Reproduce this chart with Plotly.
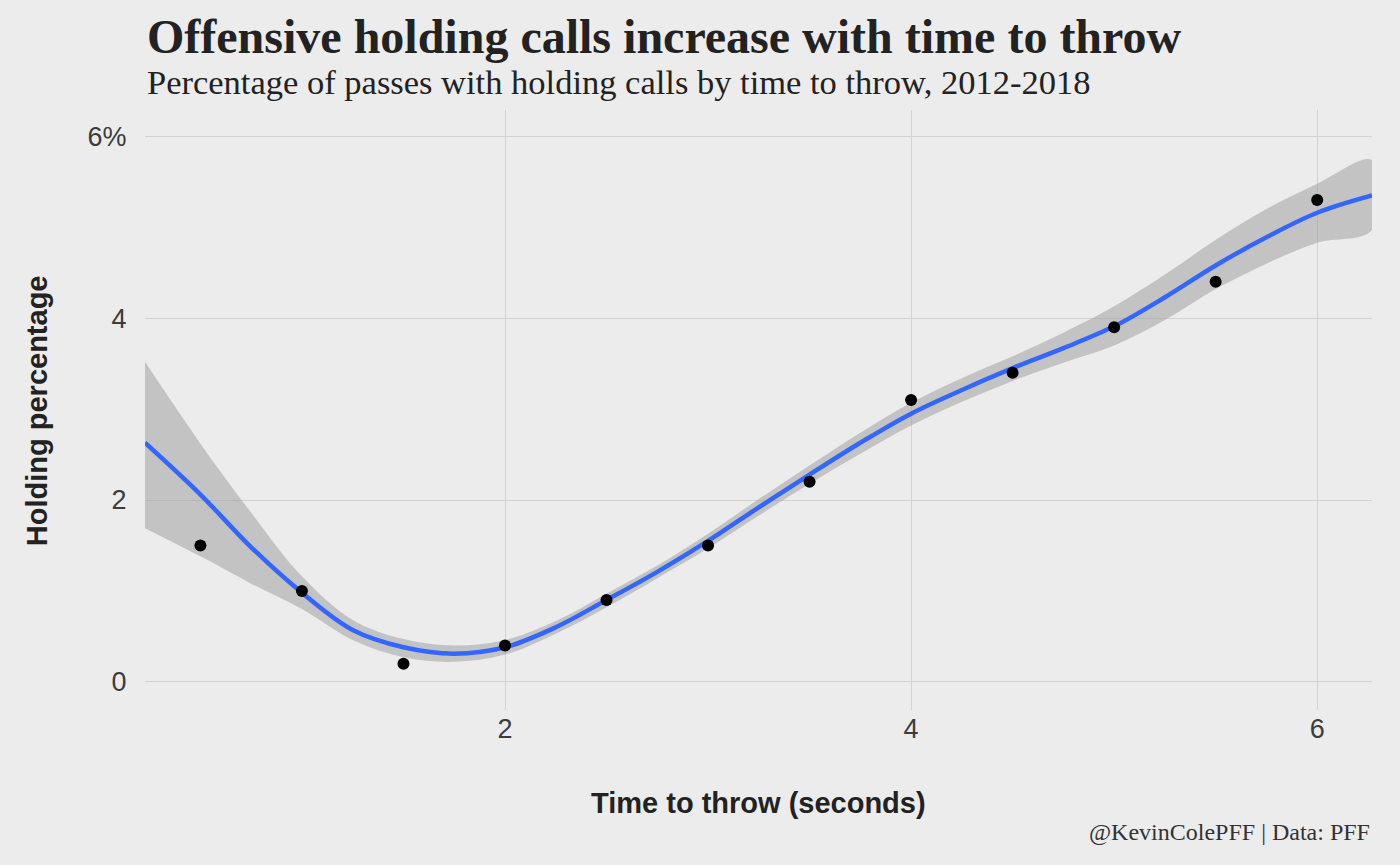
import plotly.graph_objects as go

# observed points
time_to_throw = [0.5, 1.0, 1.5, 2.0, 2.5, 3.0, 3.5, 4.0, 4.5, 5.0, 5.5, 6.0]
holding_pct = [1.5, 1.0, 0.2, 0.4, 0.9, 1.5, 2.2, 3.1, 3.4, 3.9, 4.4, 5.3]

# loess smooth
smooth_x = [0.227, 0.5, 0.75, 1.0, 1.25, 1.5, 1.75, 2.0, 2.25, 2.5, 2.75, 3.0, 3.25,
            3.5, 3.75, 4.0, 4.25, 4.5, 4.75, 5.0, 5.25, 5.5, 5.75, 6.0, 6.27]
smooth_y = [2.63, 2.06, 1.48, 0.98, 0.57, 0.38, 0.31, 0.38, 0.60, 0.90, 1.21, 1.55, 1.92,
            2.28, 2.63, 2.95, 3.21, 3.45, 3.67, 3.91, 4.23, 4.58, 4.89, 5.16, 5.35]
smooth_hi = [3.52, 2.62, 1.86, 1.16, 0.68, 0.47, 0.40, 0.46, 0.67, 0.97, 1.28, 1.63, 2.01,
             2.38, 2.74, 3.07, 3.34, 3.58, 3.84, 4.13, 4.48, 4.86, 5.20, 5.48, 5.74]
smooth_lo = [1.69, 1.38, 1.08, 0.80, 0.46, 0.27, 0.22, 0.30, 0.53, 0.82, 1.14, 1.47, 1.83,
             2.18, 2.51, 2.82, 3.08, 3.31, 3.51, 3.70, 3.98, 4.32, 4.60, 4.83, 4.97]

y_tickvals = [0, 2, 4, 6]
y_ticktext = ["0", "2", "4", "6%"]
x_tickvals = [2, 4, 6]

BG = "#ECECEC"
fig = go.Figure()
fig.add_trace(go.Scatter(x=smooth_x + smooth_x[::-1], y=smooth_hi + smooth_lo[::-1],
                         fill="toself", fillcolor="rgba(153,153,153,0.5)",
                         line=dict(width=0, shape="spline"), mode="lines",
                         hoverinfo="skip", showlegend=False))
fig.add_trace(go.Scatter(x=smooth_x, y=smooth_y, mode="lines",
                         line=dict(color="#3366FF", width=4.5, shape="spline"),
                         showlegend=False))
fig.add_trace(go.Scatter(x=time_to_throw, y=holding_pct, mode="markers",
                         marker=dict(color="black", size=12), showlegend=False))

fig.update_layout(
    width=1400, height=865,
    paper_bgcolor=BG, plot_bgcolor=BG,
    margin=dict(l=145, r=28, t=110, b=155),
    xaxis=dict(range=[0.227, 6.27], tickvals=x_tickvals, showgrid=True,
               gridcolor="#D2D2D2", gridwidth=1.3, zeroline=False, showline=False,
               tickfont=dict(family="Liberation Sans, Arial", size=27, color="#3C3C3C"),
               ticks="", ticklen=0),
    yaxis=dict(range=[-0.31, 6.29], tickvals=y_tickvals, ticktext=y_ticktext,
               showgrid=True, gridcolor="#D2D2D2", gridwidth=1.3, zeroline=False,
               showline=False, ticks="outside", ticklen=12, tickcolor=BG,
               tickfont=dict(family="Liberation Sans, Arial", size=27, color="#3C3C3C")),
    annotations=[
        dict(text="<b>Offensive holding calls increase with time to throw</b>",
             xref="paper", yref="paper", x=0, y=1.122, xanchor="left", yanchor="middle",
             showarrow=False, font=dict(family="Liberation Serif, Times New Roman", size=48, color="#222222")),
        dict(text="Percentage of passes with holding calls by time to throw, 2012-2018",
             xref="paper", yref="paper", x=0, y=1.047, xanchor="left", yanchor="middle",
             showarrow=False, font=dict(family="Liberation Serif, Times New Roman", size=34.5, color="#222222")),
        dict(text="<b>Time to throw (seconds)</b>",
             xref="paper", yref="paper", x=0.5, y=-0.155, xanchor="center", yanchor="middle",
             showarrow=False, font=dict(family="Liberation Sans, Arial", size=29, color="#222222")),
        dict(text="<b>Holding percentage</b>", textangle=-90,
             xref="paper", yref="paper", x=-0.088, y=0.498, xanchor="center", yanchor="middle",
             showarrow=False, font=dict(family="Liberation Sans, Arial", size=29, color="#222222")),
        dict(text="@KevinColePFF | Data: PFF",
             xref="paper", yref="paper", x=1, y=-0.203, xanchor="right", yanchor="middle",
             showarrow=False, font=dict(family="Liberation Serif, Times New Roman", size=24, color="#333333")),
    ],
)
fig.write_html("out.html", config={"displayModeBar": False},
               post_script="document.body.style.margin='0';document.body.style.background='#ECECEC';")
